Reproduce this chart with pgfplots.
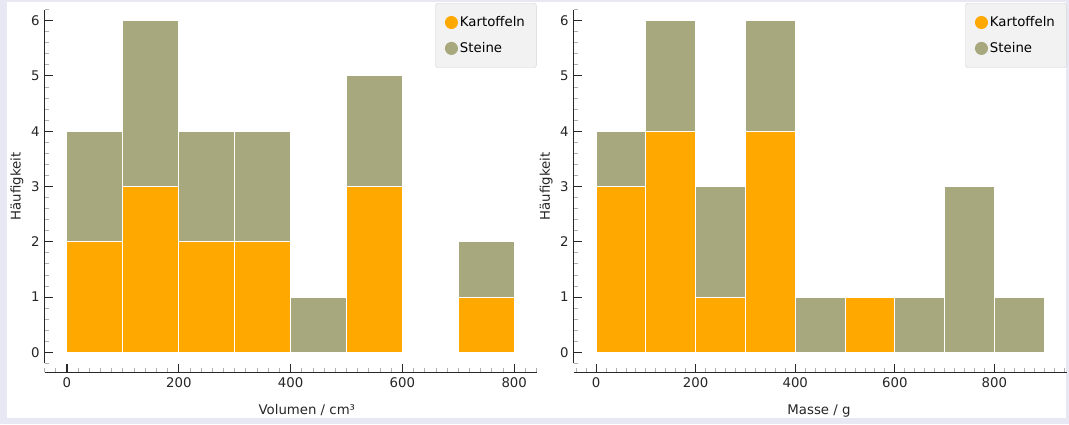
\documentclass[border=0pt]{standalone}
\usepackage{pgfplots}
\pgfplotsset{compat=1.18}
\usepackage{fontspec}
\setmainfont{DejaVu Sans}
\definecolor{kart}{RGB}{255,168,0}
\definecolor{stein}{RGB}{168,168,126}
\definecolor{bg}{RGB}{232,232,244}
\definecolor{legfill}{RGB}{242,242,242}
\definecolor{legdraw}{RGB}{214,214,214}
\definecolor{spine}{RGB}{40,40,40}
\definecolor{minorc}{RGB}{175,175,175}

\pgfplotsset{
  mystyle/.style={
    scale only axis,
    height=353.8pt,
    ymin=-0.2, ymax=6.2,
    axis lines=left,
    axis line style={-, spine, line width=1.1pt},
    axis x line shift=9pt,
    tick align=inside,
    ytick={0,1,2,3,4,5,6},
    minor ytick={-0.2,0.2,0.4,0.6,0.8,1.2,1.4,1.6,1.8,2.2,2.4,2.6,2.8,3.2,3.4,3.6,3.8,4.2,4.4,4.6,4.8,5.2,5.4,5.6,5.8,6.2},
    xtick={0,200,400,600,800},
    major tick length=8pt,
    minor tick length=4pt,
    major tick style={spine, line width=1.1pt},
    minor tick style={minorc, line width=0.9pt},
    tick label style={font=\fontsize{13.3}{16}\selectfont, text=black!85},
    /pgf/number format/assume math mode=true,
    xticklabel style={anchor=base, yshift=-15.2pt},
    yticklabel style={anchor=east, xshift=-1.6pt},
    every axis y label/.style={at={(axis description cs:0,0.5)}, rotate=90, anchor=center, yshift=27.6pt,
      font=\fontsize{13.3}{16}\selectfont, text=black!85},
    ybar stacked,
    bar width=100,
    legend cell align=left,
    legend style={at={(axis description cs:1,1)}, anchor=north east, yshift=6.6pt,
      draw=legdraw, fill=legfill, rounded corners=2.5pt, inner xsep=9.5pt, inner ysep=11.5pt,
      row sep=10.3pt, font=\fontsize{13.3}{16}\selectfont,
      /tikz/every even column/.style={column sep=8pt}},
  },
  kplot/.style={fill=kart, draw=white, line width=1pt,
    legend image code/.code={\fill[kart] (0pt,0pt) circle (6pt);}},
  splot/.style={fill=stein, draw=white, line width=1pt,
    legend image code/.code={\fill[stein] (0pt,0pt) circle (6pt);}},
}

\begin{document}
\begin{tikzpicture}
\useasboundingbox (0,0) rectangle (1069pt,424pt);
\fill[bg] (0,0) rectangle (1069pt,424pt);
\fill[white] (7pt,6pt) rectangle (1066pt,422pt);

% left panel
\begin{axis}[mystyle,
  width=492pt,
  xmin=-40, xmax=840,
  at={(44.6pt,60.6pt)}, anchor=south west,
  minor xtick={-40,-20,20,40,...,180,220,240,...,380,420,440,...,580,620,640,...,780,820,840},
  xlabel={Volumen / cm³},
  every axis x label/.style={at={(axis description cs:0.533,0)}, anchor=base, yshift=-50.6pt,
    font=\fontsize{13.3}{16}\selectfont, text=black!85},
  ylabel={Häufigkeit},
]
\addplot[kplot] coordinates {(50,2) (150,3) (250,2) (350,2) (450,0) (550,3) (650,0) (750,1)};
\addplot[splot] coordinates {(50,2) (150,3) (250,2) (350,2) (450,1) (550,2) (650,0) (750,1)};
\legend{Kartoffeln, Steine}
\end{axis}

% right panel
\begin{axis}[mystyle,
  width=492.9pt,
  xmin=-45, xmax=945,
  at={(573.7pt,60.6pt)}, anchor=south west,
  minor xtick={-40,-20,20,40,...,180,220,240,...,380,420,440,...,580,620,640,...,780,820,840,...,940},
  xlabel={Masse / g},
  every axis x label/.style={at={(axis description cs:0.4976,0)}, anchor=base, yshift=-50.6pt,
    font=\fontsize{13.3}{16}\selectfont, text=black!85},
  ylabel={Häufigkeit},
]
\addplot[kplot] coordinates {(50,3) (150,4) (250,1) (350,4) (450,0) (550,1) (650,0) (750,0) (850,0)};
\addplot[splot] coordinates {(50,1) (150,2) (250,2) (350,2) (450,1) (550,0) (650,1) (750,3) (850,1)};
\legend{Kartoffeln, Steine}
\end{axis}
\end{tikzpicture}
\end{document}
